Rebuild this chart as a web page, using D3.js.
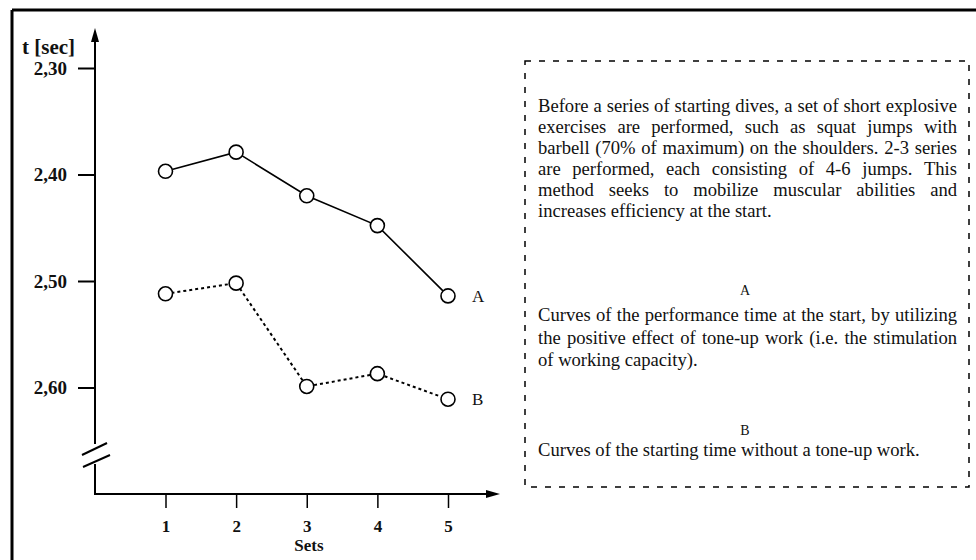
<!DOCTYPE html>
<html>
<head>
<meta charset="utf-8">
<script src="https://cdn.jsdelivr.net/npm/d3@7"></script>
<style>
  body { margin: 0; background: #fff; }
  svg { display: block; }
  text { font-family: "Liberation Serif", "DejaVu Serif", serif; fill: #111; }
</style>
</head>
<body>
<svg id="grafica"></svg>
<script>
const sets = [1, 2, 3, 4, 5];
const serieA = [2.397, 2.379, 2.420, 2.448, 2.514];
const serieB = [2.512, 2.502, 2.599, 2.587, 2.611];
const ticksY = [2.30, 2.40, 2.50, 2.60];

const textoIntro = [
  "Before a series of starting dives, a set of short explosive",
  "exercises are performed, such as squat jumps with",
  "barbell (70% of maximum) on the shoulders. 2-3 series",
  "are performed, each consisting of 4-6 jumps. This",
  "method seeks to mobilize muscular abilities and",
  "increases efficiency at the start."
];
const textoA = [
  "Curves of the performance time at the start, by utilizing",
  "the positive effect of tone-up work (i.e. the stimulation",
  "of working capacity)."
];
const textoB = ["Curves of the starting time without a tone-up work."];

function dibujar() {
  const width = 976;
  const height = 560;

  const svg = d3.select("#grafica")
    .attr("width", width)
    .attr("height", height);

  // marco exterior (arriba e izquierda)
  svg.append("line").attr("x1", 12).attr("y1", 10).attr("x2", width).attr("y2", 10)
    .attr("stroke", "#000").attr("stroke-width", 3);
  svg.append("line").attr("x1", 12).attr("y1", 10).attr("x2", 12).attr("y2", height)
    .attr("stroke", "#000").attr("stroke-width", 3);

  const x = d3.scaleLinear().domain([1, 5]).range([165.5, 448]);
  const y = d3.scaleLinear().domain([2.30, 2.60]).range([68, 387.5]);
  const fmt = d3.formatLocale({ decimal: ",", thousands: ".", grouping: [3], currency: ["", ""] }).format(".2f");

  const ejeX0 = 95, ejeY0 = 494;

  // eje Y con corte
  svg.append("line").attr("x1", ejeX0).attr("y1", 36).attr("x2", ejeX0).attr("y2", 444)
    .attr("stroke", "#000").attr("stroke-width", 2);
  svg.append("line").attr("x1", ejeX0).attr("y1", 464).attr("x2", ejeX0).attr("y2", ejeY0)
    .attr("stroke", "#000").attr("stroke-width", 2);
  svg.append("path").attr("d", `M ${ejeX0},28 L ${ejeX0 - 4},42 L ${ejeX0 + 4},42 Z`).attr("fill", "#000");
  svg.append("line").attr("x1", 82).attr("y1", 455).attr("x2", 107).attr("y2", 443)
    .attr("stroke", "#000").attr("stroke-width", 2);
  svg.append("line").attr("x1", 83).attr("y1", 467).attr("x2", 110).attr("y2", 455)
    .attr("stroke", "#000").attr("stroke-width", 2);

  const ejeY = svg.append("g")
    .attr("transform", `translate(${ejeX0},0)`)
    .call(d3.axisLeft(y).tickValues(ticksY).tickFormat(fmt).tickSize(17).tickPadding(11));
  ejeY.select(".domain").remove();
  ejeY.selectAll(".tick line").attr("stroke", "#000").attr("stroke-width", 2);
  ejeY.selectAll(".tick text")
    .attr("font-family", "Liberation Serif").attr("font-size", 19).attr("font-weight", "bold").attr("fill", "#111");

  svg.append("text").attr("x", 22).attr("y", 54)
    .attr("font-size", 21).attr("font-weight", "bold").text("t [sec]");

  // eje X
  svg.append("line").attr("x1", ejeX0 - 1).attr("y1", ejeY0).attr("x2", 492).attr("y2", ejeY0)
    .attr("stroke", "#000").attr("stroke-width", 2);
  svg.append("path").attr("d", `M 500,${ejeY0} L 486,${ejeY0 - 4} L 486,${ejeY0 + 4} Z`).attr("fill", "#000");

  const ejeX = svg.append("g")
    .attr("transform", `translate(0,${ejeY0})`)
    .call(d3.axisBottom(x).tickValues(sets).tickFormat(d3.format("d")).tickSize(14).tickPadding(12));
  ejeX.select(".domain").remove();
  ejeX.selectAll(".tick line").attr("stroke", "#000").attr("stroke-width", 1.5);
  ejeX.selectAll(".tick text")
    .attr("font-family", "Liberation Serif").attr("font-size", 17).attr("font-weight", "bold").attr("fill", "#111");

  svg.append("text").attr("x", 309).attr("y", 551).attr("text-anchor", "middle")
    .attr("font-size", 17).attr("font-weight", "bold").text("Sets");

  // curvas
  const linea = d3.line().x((d, i) => x(sets[i])).y(d => y(d));

  svg.append("path").datum(serieA).attr("d", linea)
    .attr("fill", "none").attr("stroke", "#000").attr("stroke-width", 1.6);
  svg.append("path").datum(serieB).attr("d", linea)
    .attr("fill", "none").attr("stroke", "#000").attr("stroke-width", 2).attr("stroke-dasharray", "3,3");

  [serieA, serieB].forEach(serie => {
    svg.append("g").selectAll("circle").data(serie).join("circle")
      .attr("cx", (d, i) => x(sets[i]))
      .attr("cy", d => y(d))
      .attr("r", 7)
      .attr("fill", "#fff")
      .attr("stroke", "#000")
      .attr("stroke-width", 1.6);
  });

  svg.append("text").attr("x", 472).attr("y", y(serieA[4]) + 6)
    .attr("font-size", 17).attr("fill", "#aaa").text("A");
  svg.append("text").attr("x", 472).attr("y", y(serieB[4]) + 6)
    .attr("font-size", 17).attr("fill", "#aaa").text("B");

  // recuadro de texto
  svg.append("rect").attr("x", 525).attr("y", 61).attr("width", 444).attr("height", 426)
    .attr("fill", "none").attr("stroke", "#000").attr("stroke-width", 1.5).attr("stroke-dasharray", "6,8");

  const izq = 538, der = 957;
  const tamLetra = 18.6;

  function lineaJustificada(texto, yy, justificar) {
    const t = svg.append("text").attr("y", yy).attr("font-size", tamLetra);
    const palabras = texto.split(" ");
    const spans = palabras.map(p => t.append("tspan").text(p));
    const anchos = spans.map(s => s.node().getComputedTextLength());
    const normal = tamLetra * 0.25;
    let espacio = justificar
      ? (der - izq - d3.sum(anchos)) / (palabras.length - 1)
      : normal;
    if (espacio < normal * 0.6) espacio = normal * 0.6;
    let pos = izq;
    spans.forEach((s, i) => {
      s.attr("x", pos);
      pos += anchos[i] + espacio;
    });
  }

  textoIntro.forEach((l, i) => lineaJustificada(l, 112 + i * 21, i < textoIntro.length - 1));

  svg.append("text").attr("x", 745).attr("y", 295).attr("text-anchor", "middle")
    .attr("font-size", 14).attr("fill", "#aaa").text("A");
  textoA.forEach((l, i) => lineaJustificada(l, 321 + i * 22.5, i < textoA.length - 1));

  svg.append("text").attr("x", 745).attr("y", 435).attr("text-anchor", "middle")
    .attr("font-size", 14).attr("fill", "#aaa").text("B");
  textoB.forEach((l, i) => lineaJustificada(l, 456, false));
}

document.addEventListener("DOMContentLoaded", dibujar);
</script>
</body>
</html>
